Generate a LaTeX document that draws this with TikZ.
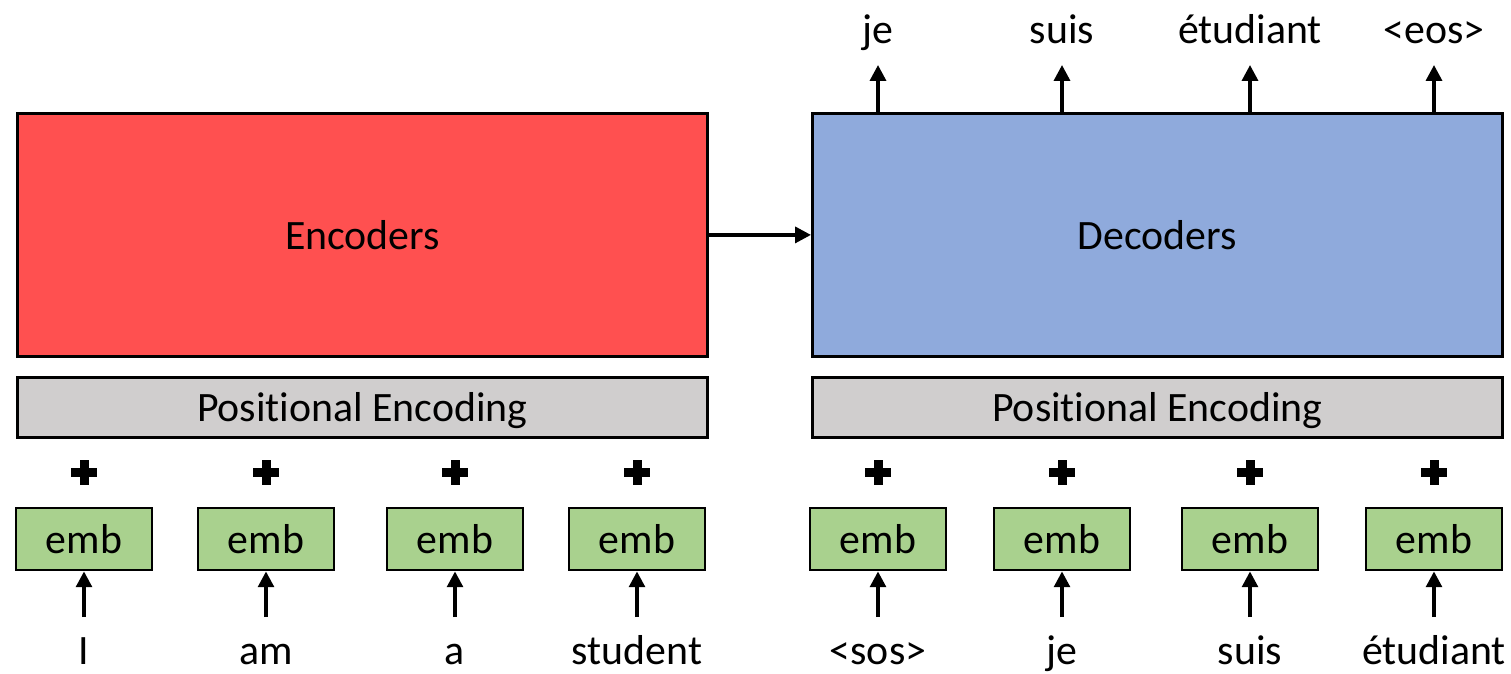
\documentclass[tikz,border=0pt]{standalone}
\usepackage{fontspec}
\setmainfont{Carlito}[Ligatures=NoCommon]
\usetikzlibrary{arrows.meta}
\definecolor{encred}{HTML}{FF5050}
\definecolor{decblue}{HTML}{8FAADC}
\definecolor{posgray}{HTML}{D0CECE}
\definecolor{embgreen}{HTML}{A9D18E}
\begin{document}
\begin{tikzpicture}[x=0.02cm,y=-0.02cm,
  every node/.style={font=\fontsize{23.8}{28}\selectfont, inner sep=0pt},
  block/.style={draw=black, line width=1.6pt, anchor=north west},
  embbox/.style={block, fill=embgreen, minimum width=136*0.02cm, minimum height=62*0.02cm, anchor=center},
  posbox/.style={block, fill=posgray, minimum width=690*0.02cm, minimum height=60*0.02cm},
  bigbox/.style={block, minimum width=690*0.02cm, minimum height=243*0.02cm},
  word/.style={anchor=base},
  arr/.style={line width=2pt, -{Triangle[length=9pt,width=9pt]}},
  plussign/.pic={\fill (-13,-4.5) rectangle (13,4.5); \fill (-4.5,-12.5) rectangle (4.5,12.5);}
]
\useasboundingbox (0,0) rectangle (1511,673);

% main blocks
\node[bigbox, fill=encred] (enc) at (16,112) {};
\node at (enc.center) {Encoders};
\node[bigbox, fill=decblue] (dec) at (811,112) {};
\node at (dec.center) {Decoders};
\draw[arr] (enc.east) -- (dec.west);

% positional encoding bars
\node[posbox] (pe1) at (16,376) {};
\node at ([yshift=-3*0.02cm]pe1.center) {Positional Encoding};
\node[posbox] (pe2) at (811,376) {};
\node at ([yshift=-3*0.02cm]pe2.center) {Positional Encoding};

% encoder inputs
\foreach \x/\w [count=\i] in {84/I, 266/am, 455/a, 637/student} {
  \pic at (\x,472) {plussign};
  \node[embbox] (ee\i) at (\x,539) {emb};
  \node[word] (ew\i) at (\x,664) {\w};
  \coordinate (es\i) at (\x,617);
  \draw[arr] (es\i) -- (ee\i.south);
}

% decoder inputs
\foreach \x/\w [count=\i] in {878/<sos>, 1062/je, 1250/suis, 1434/étudiant} {
  \pic at (\x,472) {plussign};
  \node[embbox] (de\i) at (\x,539) {emb};
  \node[word] (dw\i) at (\x,664) {\w};
  \coordinate (ds\i) at (\x,617);
  \draw[arr] (ds\i) -- (de\i.south);
}

% decoder outputs
\foreach \x/\w [count=\i] in {878/je, 1062/suis, 1250/étudiant, 1434/<eos>} {
  \node[word] (ow\i) at (\x,43) {\w};
  \coordinate (ob\i) at (\x,112);
  \coordinate (ot\i) at (\x,65);
  \draw[arr] (ob\i) -- (ot\i);
}
\end{tikzpicture}
\end{document}
